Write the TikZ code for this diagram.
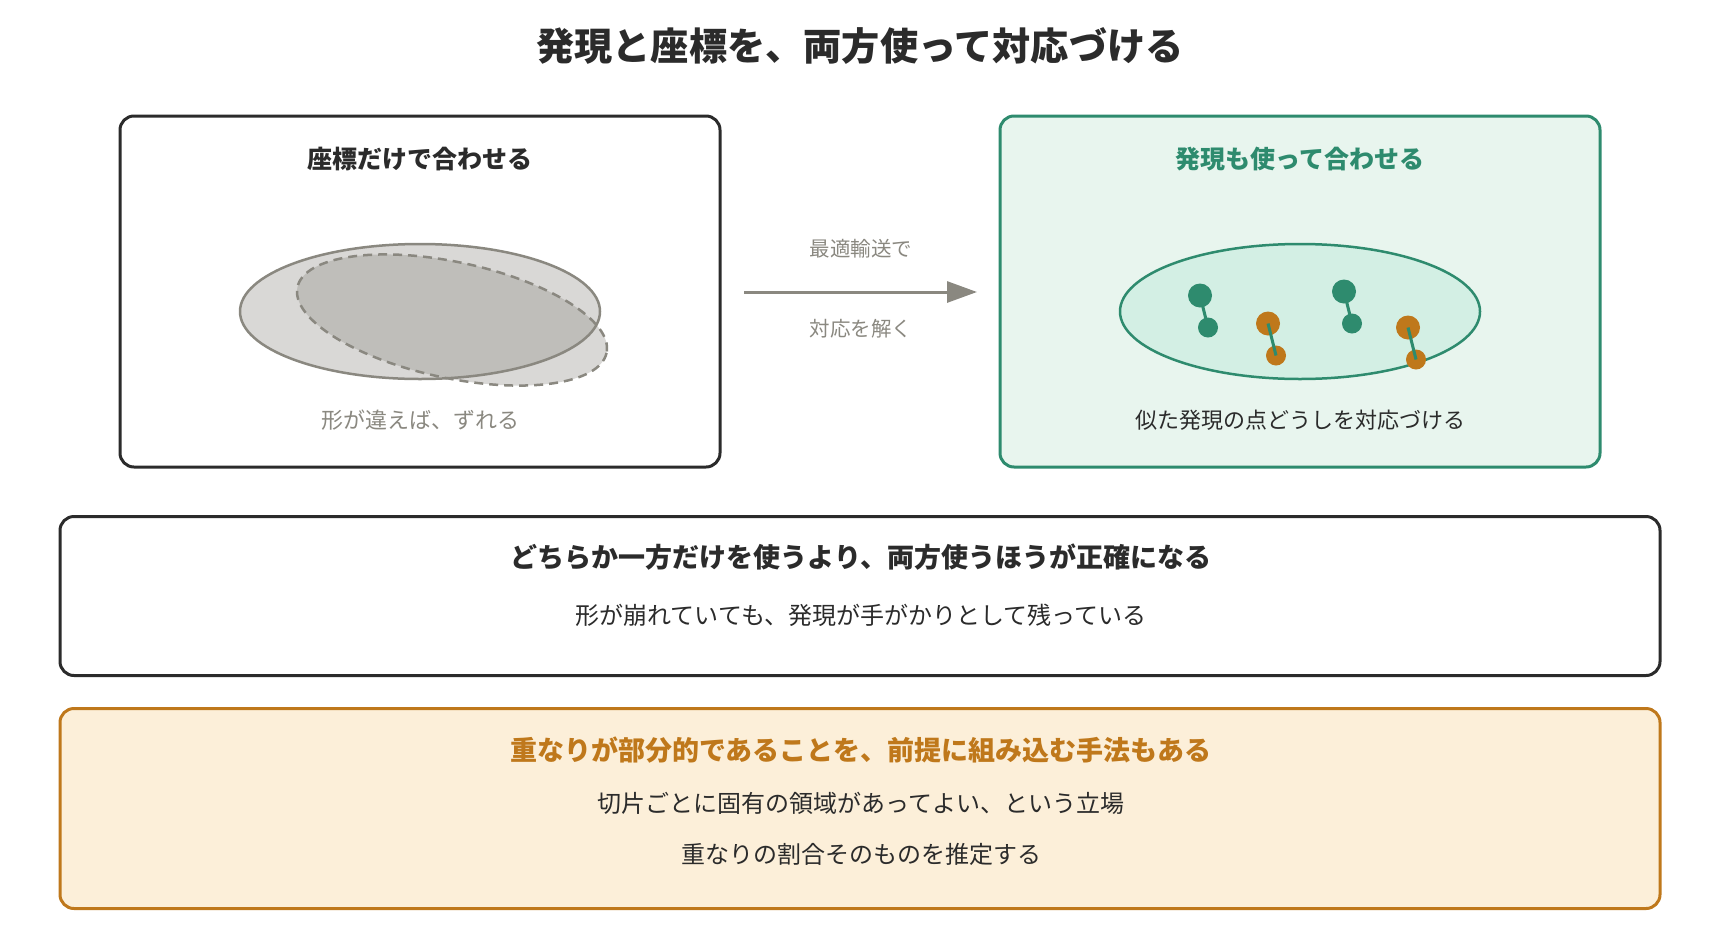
\documentclass[tikz,border=0pt]{standalone}
\usepackage{fontspec}
\setmainfont{Noto Sans CJK JP}
\usetikzlibrary{arrows.meta}

\definecolor{ink}{HTML}{2B2B2B}
\definecolor{mute}{HTML}{8A8880}
\definecolor{teal}{HTML}{2E8B6E}
\definecolor{tealbg}{HTML}{E8F5EE}
\definecolor{tealin}{HTML}{D3EFE4}
\definecolor{amber}{HTML}{BF781B}
\definecolor{amberbg}{HTML}{FCEFD9}

\tikzset{
  panel/.style={draw=ink, line width=3pt, rounded corners=14pt, fill=white},
  head/.style={font=\bfseries\fontsize{25}{30}\selectfont, text=ink},
  note/.style={font=\fontsize{22}{26}\selectfont, text=ink},
  gspot/.style={fill=teal},
  ospot/.style={fill=amber},
  link/.style={draw=teal, line width=3pt}
}

\begin{document}
\begin{tikzpicture}[x=1pt, y=-1pt]
  \useasboundingbox (0,0) rectangle (1720,940);

  \node[font=\bfseries\fontsize{38.2}{44}\selectfont, text=ink] (title) at (860,46) {発現と座標を、両方使って対応づける};

  % left panel
  \node[panel, minimum width=600pt, minimum height=351pt] (lbox) at (420,291.5) {};
  \node[head] (lhead) at (420,159) {座標だけで合わせる};
  \fill[mute, fill opacity=0.32] (420,311.5) ellipse [x radius=180, y radius=67.5];
  \fill[mute, fill opacity=0.32, rotate around={-12:(452,320)}] (452,320) ellipse [x radius=158, y radius=58];
  \draw[mute, line width=2.5pt] (420,311.5) ellipse [x radius=180, y radius=67.5];
  \draw[mute, line width=2.5pt, dash pattern=on 9pt off 6pt, rotate around={-12:(452,320)}] (452,320) ellipse [x radius=158, y radius=58];
  \node[note, text=mute] (lnote) at (420,420) {形が違えば、ずれる};

  % arrow
  \coordinate (arrS) at (744,292);
  \coordinate (arrE) at (977,292);
  \draw[mute, line width=3pt, -{Triangle[length=30pt, width=21pt]}] (arrS) -- (arrE);
  \node[note, text=mute, font=\fontsize{20.5}{25}\selectfont] (atop) at (861,249) {最適輸送で};
  \node[note, text=mute, font=\fontsize{20.5}{25}\selectfont] (abot) at (861,329) {対応を解く};

  % right panel
  \node[panel, draw=teal, fill=tealbg, minimum width=600pt, minimum height=351pt] (rbox) at (1300,291.5) {};
  \node[head, text=teal] (rhead) at (1300,159) {発現も使って合わせる};
  \draw[teal, fill=tealin, line width=2.5pt] (1300,311.5) ellipse [x radius=180, y radius=67.5];
  \fill[gspot] (1200,295.5) circle (12) (1208,327.5) circle (10);
  \fill[gspot] (1344,291.5) circle (12) (1352,323.5) circle (10);
  \fill[ospot] (1268,323.5) circle (12) (1276,355.5) circle (10);
  \fill[ospot] (1408,327.5) circle (12) (1416,359.5) circle (10);
  \draw[link] (1200,295.5) -- (1208,327.5);
  \draw[link] (1344,291.5) -- (1352,323.5);
  \draw[link] (1268,323.5) -- (1276,355.5);
  \draw[link] (1408,327.5) -- (1416,359.5);
  \node[note] (rnote) at (1300,420) {似た発現の点どうしを対応づける};

  % summary boxes
  \node[panel, minimum width=1600pt, minimum height=159pt] (mid) at (860,596) {};
  \node[head, font=\bfseries\fontsize{27}{32}\selectfont] (midhead) at (861,557) {どちらか一方だけを使うより、両方使うほうが正確になる};
  \node[note, font=\fontsize{24}{29}\selectfont] (midnote) at (861,615) {形が崩れていても、発現が手がかりとして残っている};

  \node[panel, draw=amber, fill=amberbg, minimum width=1600pt, minimum height=200pt] (low) at (860,808.5) {};
  \node[head, text=amber, font=\bfseries\fontsize{27}{32}\selectfont] (lowhead) at (861,750) {重なりが部分的であることを、前提に組み込む手法もある};
  \node[note, font=\fontsize{24}{29}\selectfont] (lowa) at (861,803) {切片ごとに固有の領域があってよい、という立場};
  \node[note, font=\fontsize{24}{29}\selectfont] (lowb) at (861,854) {重なりの割合そのものを推定する};
\end{tikzpicture}
\end{document}
